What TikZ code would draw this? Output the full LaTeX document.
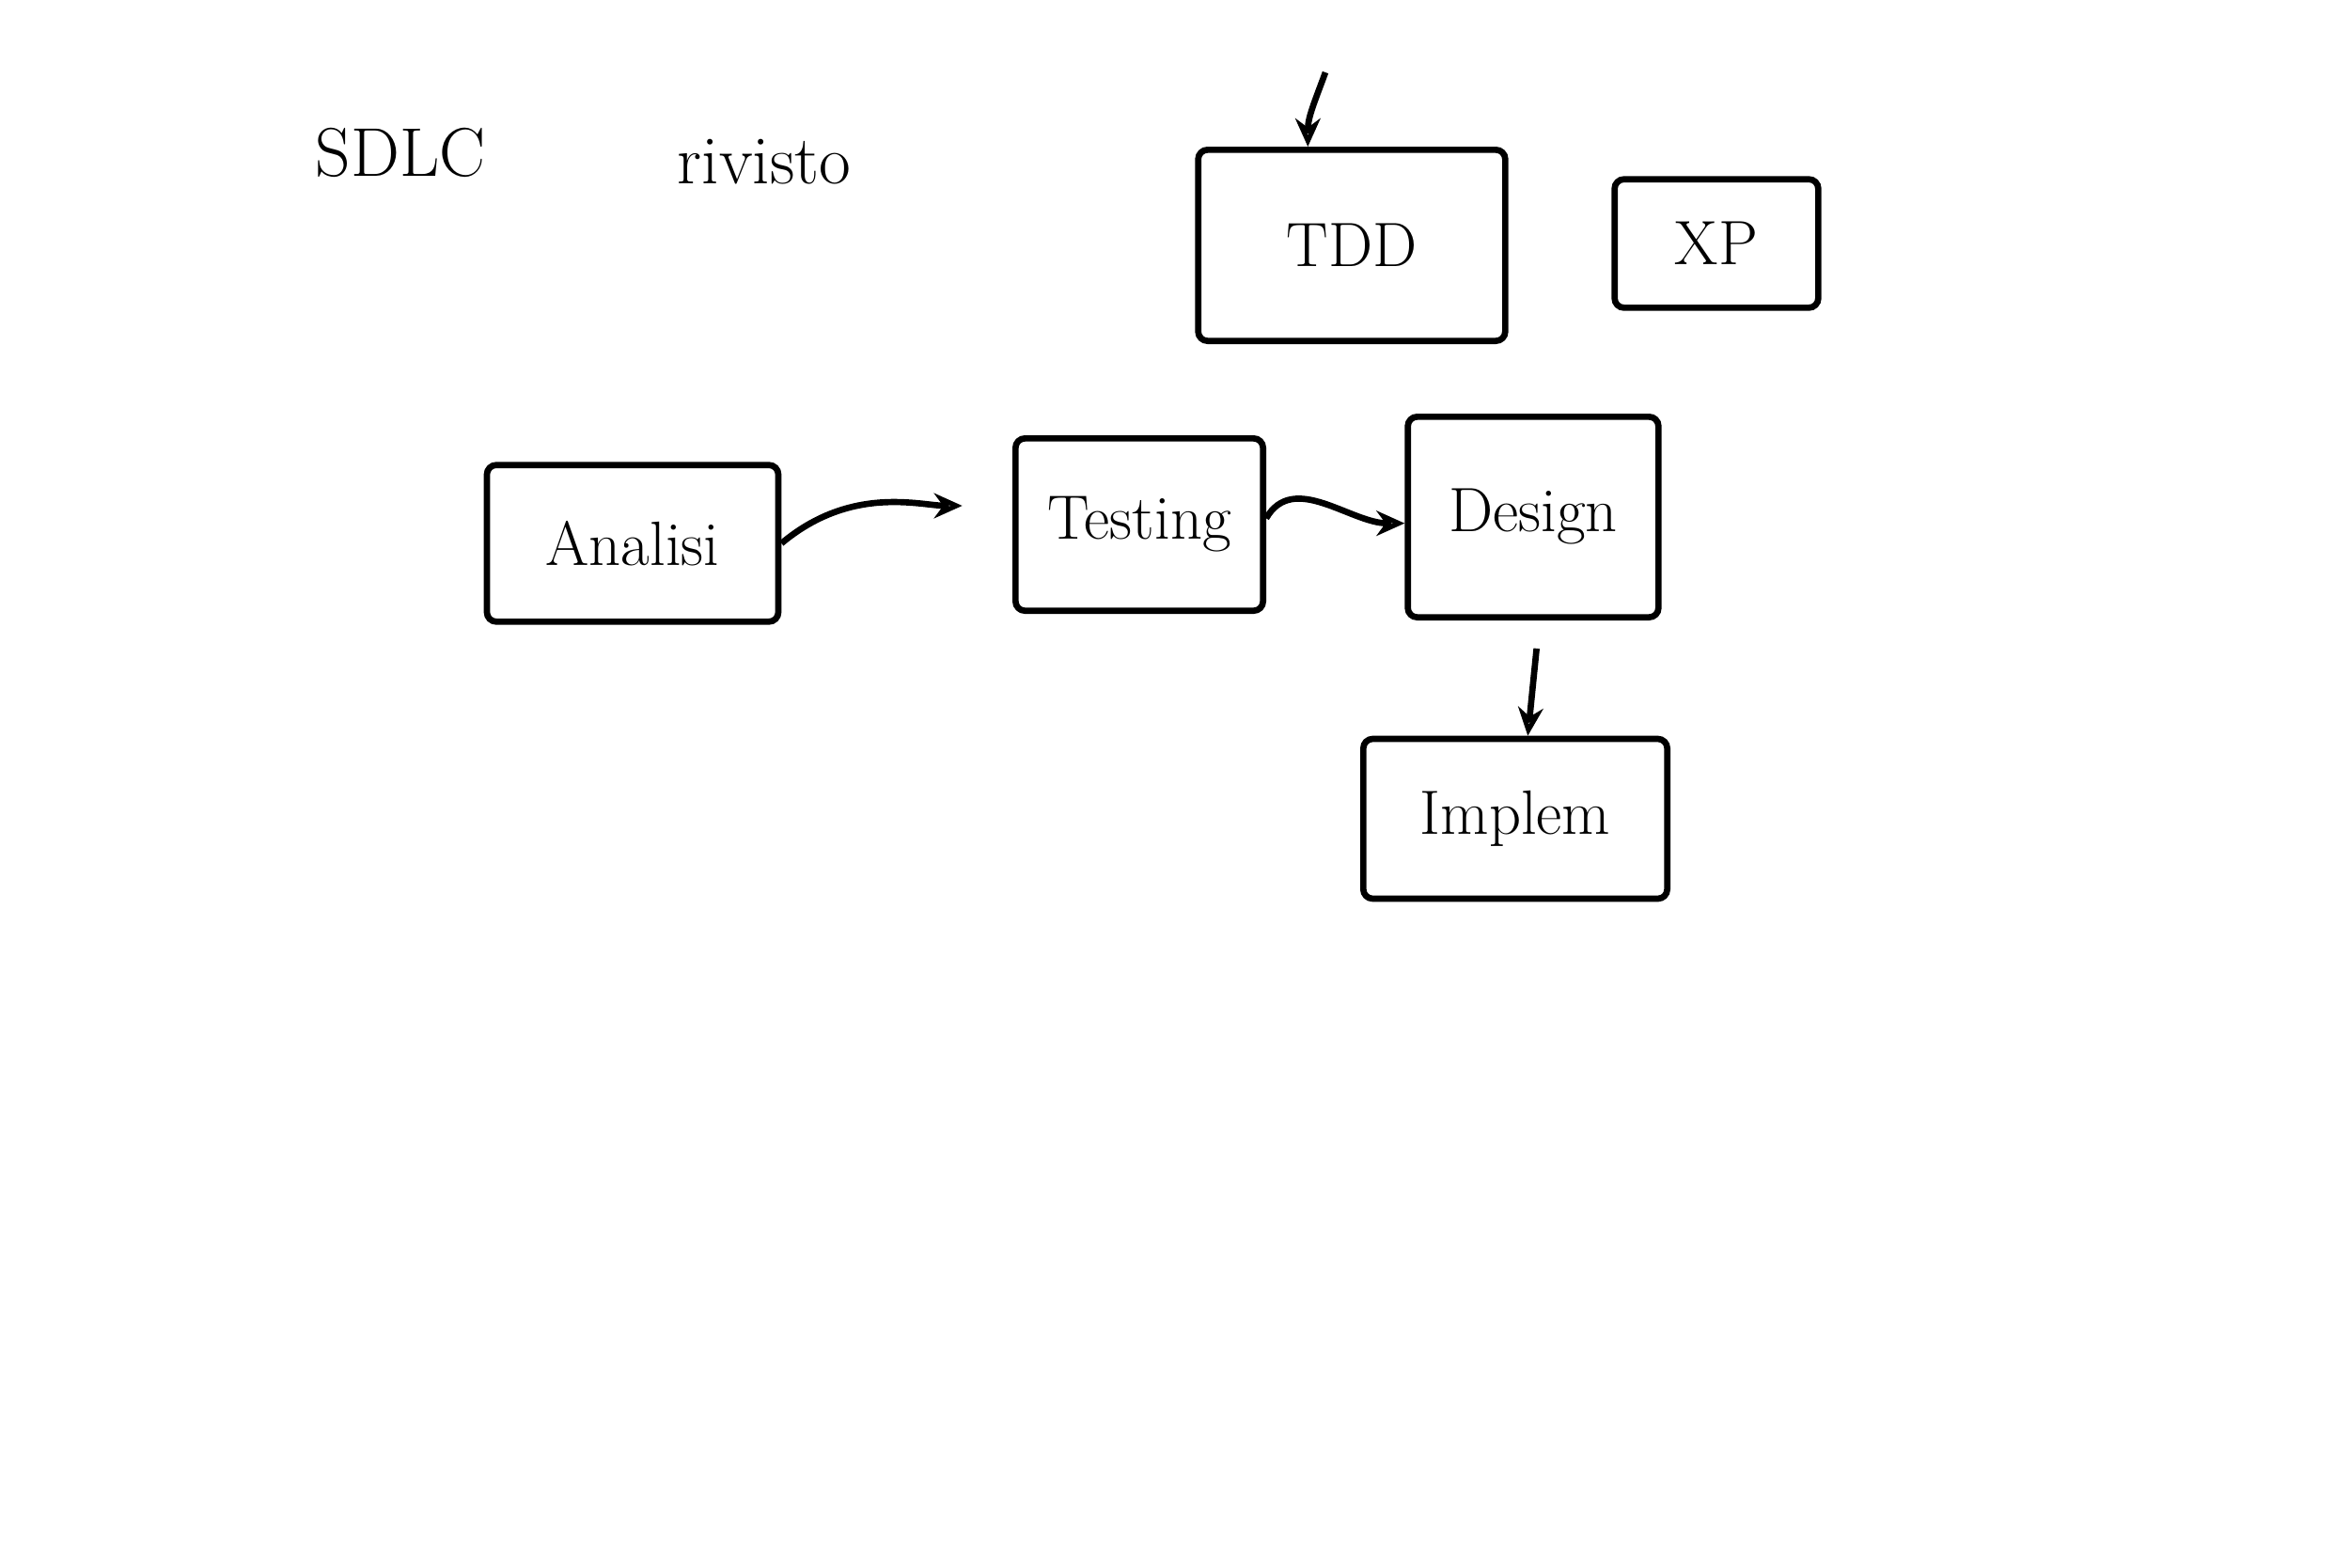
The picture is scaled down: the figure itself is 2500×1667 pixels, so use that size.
\documentclass[tikz,border=0pt]{standalone}
\usetikzlibrary{arrows.meta}

\tikzset{
  sketchbox/.style={draw, line width=2pt, rounded corners=3pt, inner sep=2pt, font=\fontsize{20}{24}\selectfont},
  sketchtext/.style={font=\fontsize{22}{26}\selectfont},
  sketcharrow/.style={line width=2pt, -{Stealth[length=9pt,width=8pt,open]}}
}

\begin{document}
\begin{tikzpicture}[x=0.3pt,y=0.3pt,yscale=-1,xscale=1]
\useasboundingbox (0,0) rectangle (2500,1667);

% Title
\node[sketchtext] (title) at (426,162) {SDLC};
\node[sketchtext] (rev) at (813,172) {rivisto};

% Shape: top boxes
\node[sketchbox, minimum width=98pt, minimum height=61pt] (tdd) at (1438,261) {TDD};
\node[sketchbox, minimum width=65pt, minimum height=41pt] (xp) at (1826,259) {XP};

% Shape: cycle boxes
\node[sketchbox, minimum width=93pt, minimum height=50pt] (analisi) at (673,578) {Analisi};
\node[sketchbox, minimum width=79pt, minimum height=55pt] (testing) at (1212,558) {Testing};
\node[sketchbox, minimum width=80pt, minimum height=64pt] (design) at (1631,550) {Design};
\node[sketchbox, minimum width=97pt, minimum height=51pt] (implem) at (1612,871) {Implem};

% Connectors
\coordinate (tddin) at (1410,77);
\draw[sketcharrow] (tddin) to[out=110,in=270] ([xshift=-14pt]tdd.north);
\draw[sketcharrow, shorten >=16pt] (analisi.east) to[out=-40,in=180] ([yshift=-6pt]testing.west);
\draw[sketcharrow] ([yshift=-2pt]testing.east) to[out=-60,in=180] ([yshift=2pt]design.west);
\draw[sketcharrow, shorten <=9pt] ([xshift=2pt]design.south) -- ([xshift=4pt]implem.north);
\end{tikzpicture}
\end{document}
